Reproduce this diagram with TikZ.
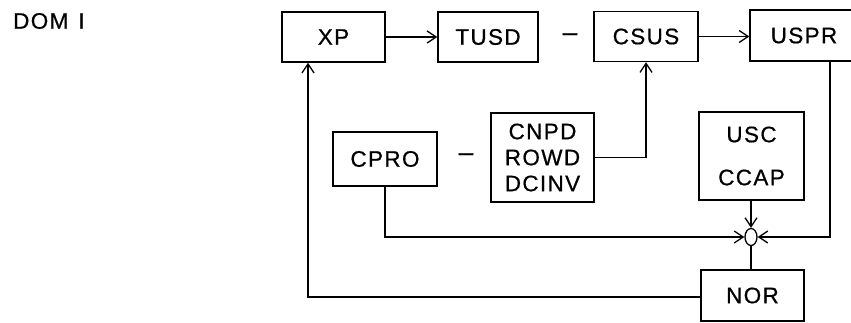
\documentclass[tikz,border=0pt]{standalone}
\usepackage{fontspec}
\setmainfont{Liberation Sans}[LetterSpace=6,FakeBold=0.6]
\usetikzlibrary{arrows.meta,shapes.geometric}
\newcommand\lblfont{\fontsize{22.5}{26}\selectfont}
\tikzset{
  blk/.style={draw, line width=1.5pt, inner sep=0pt, align=center, font=\lblfont},
  conn/.style={line width=1.3pt},
  arr/.style={conn, -{Straight Barb[length=9pt,width=12pt,line width=1.3pt]}},
  plain/.style={inner sep=0pt, font=\lblfont},
}
\begin{document}
\begin{tikzpicture}[x=1pt,y=-1pt]
\useasboundingbox (0,0) rectangle (851,323);
\clip (0,0) rectangle (851,323);
\fill[white] (0,0) rectangle (851,323);

\node[plain, anchor=west] (title) at (13,21) {DOM\hskip 10pt I};

\node[blk, minimum width=103pt, minimum height=50pt] (xp) at (333.5,37) {XP};
\node[blk, minimum width=100pt, minimum height=50pt] (tusd) at (488,37) {TUSD};
\node[plain, font=\fontsize{26}{26}\selectfont] (d1) at (570,37) {–};
\node[blk, minimum width=104pt, minimum height=50pt] (csus) at (646,36.5) {CSUS};
\node[blk, minimum width=108pt, minimum height=51pt] (uspr) at (804,35.5) {USPR};

\node[blk, minimum width=104pt, minimum height=54pt] (cpro) at (385,159) {CPRO};
\node[plain, font=\fontsize{26}{26}\selectfont] (d2) at (466,157) {–};
\node[blk, minimum width=103pt, minimum height=89pt] (cnpd) at (542.5,157.5) {CNPD\\ROWD\\DCINV};
\node[blk, minimum width=105pt, minimum height=88pt] (usc) at (751.5,156) {USC\\[17pt]CCAP};

\node[draw, ellipse, line width=1.3pt, minimum width=12pt, minimum height=17pt, inner sep=0pt] (sum) at (751,237) {};

\node[blk, minimum width=103pt, minimum height=51pt] (nor) at (752.5,295.5) {NOR};

\draw[arr] (xp.east) -- (tusd.west);
\draw[arr] (csus.east) -- (csus.east -| uspr.west);
\draw[arr] (cnpd.east) -| (csus.south);
\draw[arr] ([xshift=26pt]uspr.south) |- (sum.east);
\draw[arr] (cpro.south) |- (sum.west);
\draw[arr] (sum.north |- usc.south) -- (sum.north);
\draw[conn] (sum.south) -- (sum.south |- nor.north);
\draw[arr] ([yshift=-1.5pt]nor.west) -| ([xshift=-25.5pt]xp.south);
\end{tikzpicture}
\end{document}
